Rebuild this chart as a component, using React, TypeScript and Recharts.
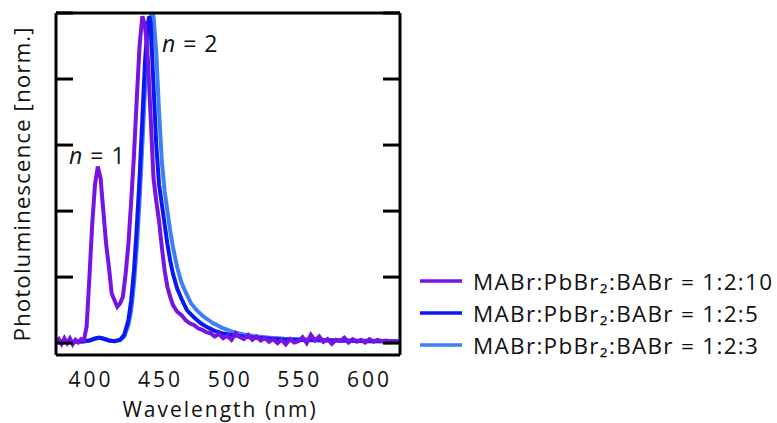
import { LineChart, Line, XAxis, YAxis, Legend, ReferenceDot } from 'recharts'

// wavelength (nm) / normalized PL
const wl10 = [376, 378, 380, 382, 384, 386, 388, 390, 392, 394, 396, 398, 400, 402, 404, 406, 408, 410, 412, 414, 416, 418, 420, 422, 424, 426, 428, 430, 432, 434, 436, 438, 440, 442, 444, 446, 448, 450, 452, 454, 456, 458, 460, 463, 466, 469, 472, 475, 478, 481, 484, 487, 490, 493, 496, 499, 502, 505, 508, 511, 514, 517, 520, 523, 526, 529, 532, 535, 538, 541, 544, 547, 550, 553, 556, 559, 562, 565, 568, 571, 574, 577, 580, 583, 586, 589, 592, 595, 598, 601, 604, 607, 610, 613, 616, 619, 622]
const pl10 = [0.004, 0.012, -0.002, 0.015, 0.0, 0.014, -0.003, 0.01, 0.002, 0.012, 0.008, 0.05, 0.2, 0.36, 0.48, 0.535, 0.5, 0.4, 0.3, 0.23, 0.15, 0.13, 0.11, 0.12, 0.14, 0.21, 0.3, 0.43, 0.57, 0.74, 0.9, 0.99, 0.96, 0.86, 0.68, 0.5, 0.43, 0.37, 0.29, 0.22, 0.17, 0.14, 0.115, 0.095, 0.085, 0.07, 0.06, 0.055, 0.045, 0.04, 0.033, 0.03, 0.02, 0.028, 0.015, 0.022, 0.01, 0.03, 0.018, 0.012, 0.025, 0.01, 0.02, 0.008, 0.015, 0.004, 0.012, 0.0, 0.01, -0.004, 0.012, 0.002, 0.006, 0.018, 0.0, 0.025, 0.008, 0.02, 0.004, 0.012, -0.002, 0.01, 0.006, 0.016, 0.002, 0.012, 0.004, 0.01, 0.002, 0.012, 0.004, 0.01, 0.006, 0.008, 0.003, 0.006, 0.002]

const wl5 = [376, 385, 395, 400, 404, 407, 410, 414, 418, 422, 425, 428, 430, 432, 434, 436, 438, 440, 442, 443, 444, 446, 448, 450, 452, 454, 456, 458, 460, 463, 466, 470, 475, 480, 485, 490, 495, 500, 510, 520, 530, 540, 560, 580, 600, 622]
const pl5 = [0.003, 0.004, 0.005, 0.008, 0.014, 0.017, 0.014, 0.008, 0.006, 0.01, 0.025, 0.07, 0.13, 0.22, 0.35, 0.5, 0.68, 0.86, 0.97, 0.99, 0.97, 0.78, 0.6, 0.48, 0.42, 0.36, 0.3, 0.25, 0.21, 0.165, 0.135, 0.1, 0.078, 0.06, 0.047, 0.037, 0.03, 0.026, 0.02, 0.016, 0.013, 0.011, 0.009, 0.008, 0.006, 0.005]

const wl3 = [376, 395, 400, 404, 407, 410, 414, 418, 422, 425, 428, 430, 432, 434, 436, 438, 440, 442, 444, 445, 446, 448, 450, 452, 454, 456, 458, 460, 463, 466, 469, 473, 477, 482, 489, 495, 503, 510, 520, 530, 540, 560, 580, 600, 622]
const pl3 = [0.004, 0.005, 0.008, 0.013, 0.016, 0.013, 0.008, 0.006, 0.009, 0.02, 0.055, 0.1, 0.18, 0.29, 0.43, 0.6, 0.78, 0.92, 0.99, 1.0, 0.99, 0.88, 0.7, 0.55, 0.46, 0.4, 0.34, 0.29, 0.23, 0.185, 0.155, 0.12, 0.1, 0.08, 0.06, 0.047, 0.034, 0.027, 0.02, 0.016, 0.013, 0.01, 0.008, 0.007, 0.006]

const xTicks = [400, 450, 500, 550, 600]
const yTicks = [0, 0.2, 0.4, 0.6, 0.8, 1.0]
const legendOrder = ['MABr:PbBr₂:BABr = 1:2:10', 'MABr:PbBr₂:BABr = 1:2:5', 'MABr:PbBr₂:BABr = 1:2:3']

const toRows = (xs: number[], ys: number[]) => xs.map((x, i) => ({ wl: x, pl: ys[i] }))

const FONT = '"Open Sans", "DejaVu Sans", sans-serif'
const X_DOMAIN: [number, number] = [376, 623]
const Y_DOMAIN: [number, number] = [-0.036, 1.0]
const blank = () => ''

const Tag = ({ viewBox, num }: any) => (
  <text x={viewBox.x} y={viewBox.y} textAnchor="middle" dominantBaseline="central" fontSize={23} letterSpacing={1} fontFamily={FONT} fill="#111">
    <tspan fontStyle="italic">n</tspan> = {num}
  </text>
)

const LegendBox = ({ payload }: any) => {
  const items = [...(payload || [])].sort((a: any, b: any) => legendOrder.indexOf(a.value) - legendOrder.indexOf(b.value))
  return (
    <div style={{ fontFamily: FONT, fontSize: 22.5, letterSpacing: 1.3, color: '#111', whiteSpace: 'nowrap' }}>
      {items.map((p: any) => (
        <div key={p.value} style={{ display: 'flex', alignItems: 'center', height: 32 }}>
          <svg width={44} height={10} style={{ marginRight: 11 }}>
            <line x1={2} x2={44} y1={5} y2={5} stroke={p.color} strokeWidth={3.5} />
          </svg>
          <span>{p.value}</span>
        </div>
      ))}
    </div>
  )
}

export default function App() {
  return (
    <div style={{ position: 'fixed', left: 0, top: 0, width: 777, height: 423, overflow: 'hidden', background: '#fff' }}>
      <LineChart width={777} height={423} margin={{ top: 13, right: 377, left: 0, bottom: 0 }}>
        {/* labelled frame axes */}
        <XAxis
          xAxisId="b"
          dataKey="wl"
          type="number"
          domain={X_DOMAIN}
          ticks={xTicks}
          allowDataOverflow
          height={68}
          tickLine={false}
          tickSize={0}
          tickMargin={17}
          stroke="#000"
          strokeWidth={3}
          tick={{ fontSize: 21, letterSpacing: 3, dx: 1.5, fill: '#111', fontFamily: FONT }}
          label={{ value: 'Wavelength (nm)', position: 'insideBottom', offset: 6, dx: -8, style: { fontSize: 21, letterSpacing: 2, fill: '#111', fontFamily: FONT } }}
        />
        <YAxis
          yAxisId="l"
          type="number"
          domain={Y_DOMAIN}
          ticks={yTicks}
          allowDataOverflow
          width={56}
          tickLine={false}
          tick={false}
          stroke="#000"
          strokeWidth={3}
          label={{ value: 'Photoluminescence [norm.]', angle: -90, position: 'insideLeft', offset: 22, style: { textAnchor: 'middle', fontSize: 22.5, letterSpacing: 1, fill: '#111', fontFamily: FONT } }}
        />
        {/* inward tick marks on all four sides */}
        <XAxis xAxisId="bm" type="number" domain={X_DOMAIN} ticks={xTicks} allowDataOverflow mirror height={20} tickSize={14} axisLine={false} tickFormatter={blank} stroke="#000" strokeWidth={3} />
        <XAxis xAxisId="t" orientation="top" type="number" domain={X_DOMAIN} ticks={xTicks} allowDataOverflow mirror height={20} tickSize={15} tickFormatter={blank} stroke="#000" strokeWidth={3} />
        <YAxis yAxisId="lm" type="number" domain={Y_DOMAIN} ticks={yTicks} allowDataOverflow mirror width={20} tickSize={17} axisLine={false} tickFormatter={blank} stroke="#000" strokeWidth={3} />
        <YAxis yAxisId="r" orientation="right" type="number" domain={Y_DOMAIN} ticks={yTicks} allowDataOverflow mirror width={20} tickSize={17} tickFormatter={blank} stroke="#000" strokeWidth={3} />
        <Line xAxisId="b" yAxisId="l" data={toRows(wl3, pl3)} dataKey="pl" name="MABr:PbBr₂:BABr = 1:2:3" stroke="#3d7ff7" strokeWidth={4} dot={false} isAnimationActive={false} />
        <Line xAxisId="b" yAxisId="l" data={toRows(wl5, pl5)} dataKey="pl" name="MABr:PbBr₂:BABr = 1:2:5" stroke="#0c18f2" strokeWidth={4} dot={false} isAnimationActive={false} />
        <Line xAxisId="b" yAxisId="l" data={toRows(wl10, pl10)} dataKey="pl" name="MABr:PbBr₂:BABr = 1:2:10" stroke="#7714e4" strokeWidth={4} dot={false} isAnimationActive={false} />
        <ReferenceDot xAxisId="b" yAxisId="l" x={405.7} y={0.57} r={0} ifOverflow="visible" label={<Tag num={1} />} />
        <ReferenceDot xAxisId="b" yAxisId="l" x={472.4} y={0.909} r={0} ifOverflow="visible" label={<Tag num={2} />} />
        <Legend layout="horizontal" verticalAlign="middle" align="center" content={<LegendBox />} wrapperStyle={{ left: 418, top: 265, width: 400 }} />
      </LineChart>
    </div>
  )
}
